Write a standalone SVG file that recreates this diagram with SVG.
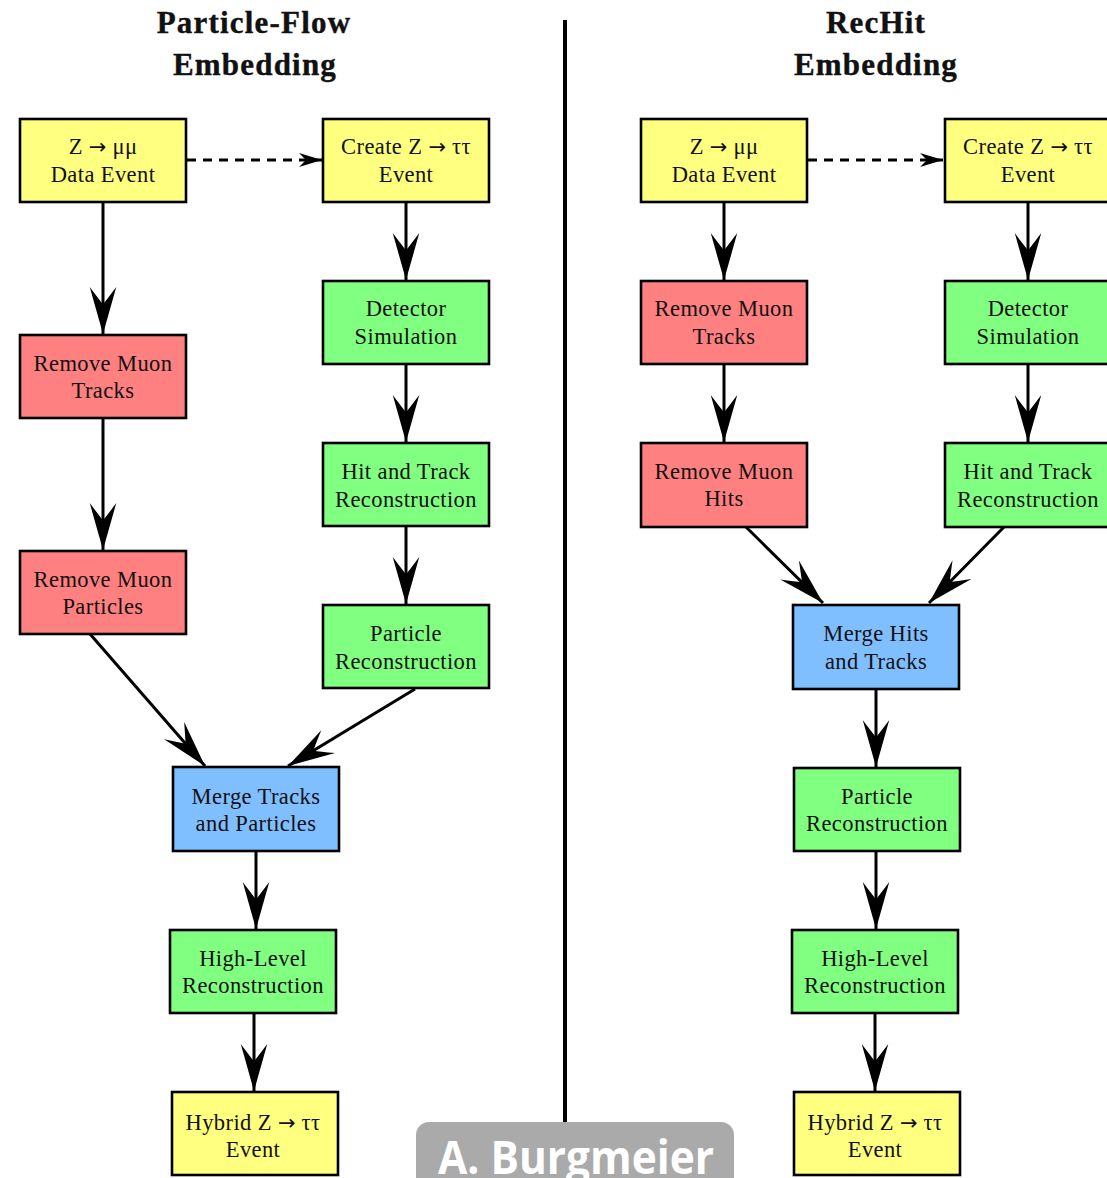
<svg xmlns="http://www.w3.org/2000/svg" width="1107" height="1178" viewBox="0 0 1107 1178">
<style>
.box{stroke:#000;stroke-width:2.6}
.y{fill:#ffff80}.r{fill:#ff8080}.g{fill:#80ff80}.b{fill:#80bfff}
.t{font-family:"Liberation Serif","DejaVu Serif",serif;font-size:22.5px;fill:#111;text-anchor:middle;letter-spacing:0.4px}
.a{font-family:"DejaVu Sans",sans-serif;font-size:21px;letter-spacing:0}
.h{font-family:"Liberation Serif","DejaVu Serif",serif;font-size:31px;font-weight:bold;fill:#111;text-anchor:middle;letter-spacing:1.2px;stroke:#111;stroke-width:0.4px}
.c{stroke:#000;stroke-width:3;fill:none}
.d{stroke:#000;stroke-width:3;fill:none;stroke-dasharray:9 7}
</style>
<defs>
<marker id="ah" markerUnits="userSpaceOnUse" markerWidth="50" markerHeight="30" viewBox="-47 -14 49 28" refX="0" refY="0" orient="auto">
<path d="M0,0 L-46,-13 Q-34,-4 -29,0 Q-34,4 -46,13 Z" fill="#000"/>
</marker>
<marker id="ahs" markerUnits="userSpaceOnUse" markerWidth="26" markerHeight="16" viewBox="-24 -8 25 16" refX="0" refY="0" orient="auto">
<path d="M0,0 L-23,-7 L-16,0 L-23,7 Z" fill="#000"/>
</marker>
</defs>

<text class="h" x="254" y="33">Particle-Flow</text>
<text class="h" x="255" y="75">Embedding</text>
<text class="h" x="876" y="33">RecHit</text>
<text class="h" x="876" y="75">Embedding</text>

<line x1="565" y1="20" x2="565" y2="1124" stroke="#000" stroke-width="4"/>

<g id="connectors">
<line class="d" x1="187" y1="160" x2="322" y2="160" marker-end="url(#ahs)"/>
<line class="c" x1="103" y1="202" x2="103" y2="334" marker-end="url(#ah)"/>
<line class="c" x1="103" y1="418" x2="103" y2="550" marker-end="url(#ah)"/>
<line class="c" x1="406" y1="202" x2="406" y2="280" marker-end="url(#ah)"/>
<line class="c" x1="406" y1="364" x2="406" y2="442" marker-end="url(#ah)"/>
<line class="c" x1="406" y1="526" x2="406" y2="604" marker-end="url(#ah)"/>
<line class="c" x1="90" y1="634" x2="205" y2="766" marker-end="url(#ah)"/>
<line class="c" x1="415" y1="689" x2="288" y2="766" marker-end="url(#ah)"/>
<line class="c" x1="256" y1="851" x2="256" y2="929" marker-end="url(#ah)"/>
<line class="c" x1="254" y1="1013" x2="254" y2="1091" marker-end="url(#ah)"/>

<line class="d" x1="808" y1="160" x2="943" y2="160" marker-end="url(#ahs)"/>
<line class="c" x1="724" y1="202" x2="724" y2="280" marker-end="url(#ah)"/>
<line class="c" x1="724" y1="364" x2="724" y2="442" marker-end="url(#ah)"/>
<line class="c" x1="1028" y1="202" x2="1028" y2="280" marker-end="url(#ah)"/>
<line class="c" x1="1028" y1="364" x2="1028" y2="442" marker-end="url(#ah)"/>
<line class="c" x1="746" y1="527" x2="823" y2="603" marker-end="url(#ah)"/>
<line class="c" x1="1004" y1="527" x2="929" y2="603" marker-end="url(#ah)"/>
<line class="c" x1="876" y1="689" x2="876" y2="767" marker-end="url(#ah)"/>
<line class="c" x1="876" y1="851" x2="876" y2="929" marker-end="url(#ah)"/>
<line class="c" x1="875" y1="1013" x2="875" y2="1091" marker-end="url(#ah)"/>
</g>

<g id="pf-data"><rect class="box y" x="20" y="119" width="166" height="83"/>
<text class="t" x="103" y="154">Z <tspan class="a">→</tspan> μμ</text><text class="t" x="103" y="182">Data Event</text></g>
<g id="pf-create"><rect class="box y" x="323" y="119" width="166" height="83"/>
<text class="t" x="406" y="154">Create Z <tspan class="a">→</tspan> ττ</text><text class="t" x="406" y="182">Event</text></g>
<g id="pf-detsim"><rect class="box g" x="323" y="281" width="166" height="83"/>
<text class="t" x="406" y="316">Detector</text><text class="t" x="406" y="344">Simulation</text></g>
<g id="pf-hittrack"><rect class="box g" x="323" y="443" width="166" height="83"/>
<text class="t" x="406" y="479">Hit and Track</text><text class="t" x="406" y="507">Reconstruction</text></g>
<g id="pf-partreco"><rect class="box g" x="323" y="605" width="166" height="83"/>
<text class="t" x="406" y="641">Particle</text><text class="t" x="406" y="669">Reconstruction</text></g>
<g id="pf-rmtracks"><rect class="box r" x="20" y="335" width="166" height="83"/>
<text class="t" x="103" y="371">Remove Muon</text><text class="t" x="103" y="398">Tracks</text></g>
<g id="pf-rmparticles"><rect class="box r" x="20" y="551" width="166" height="83"/>
<text class="t" x="103" y="587">Remove Muon</text><text class="t" x="103" y="614">Particles</text></g>
<g id="pf-merge"><rect class="box b" x="173" y="767" width="166" height="84"/>
<text class="t" x="256" y="804">Merge Tracks</text><text class="t" x="256" y="831">and Particles</text></g>
<g id="pf-highlevel"><rect class="box g" x="170" y="930" width="166" height="83"/>
<text class="t" x="253" y="966">High-Level</text><text class="t" x="253" y="993">Reconstruction</text></g>
<g id="pf-hybrid"><rect class="box y" x="172" y="1092" width="166" height="83"/>
<text class="t" x="253" y="1130">Hybrid Z <tspan class="a">→</tspan> ττ</text><text class="t" x="253" y="1157">Event</text></g>

<g id="rh-data"><rect class="box y" x="641" y="119" width="166" height="83"/>
<text class="t" x="724" y="154">Z <tspan class="a">→</tspan> μμ</text><text class="t" x="724" y="182">Data Event</text></g>
<g id="rh-create"><rect class="box y" x="945" y="119" width="166" height="83"/>
<text class="t" x="1028" y="154">Create Z <tspan class="a">→</tspan> ττ</text><text class="t" x="1028" y="182">Event</text></g>
<g id="rh-rmtracks"><rect class="box r" x="641" y="281" width="166" height="83"/>
<text class="t" x="724" y="316">Remove Muon</text><text class="t" x="724" y="344">Tracks</text></g>
<g id="rh-detsim"><rect class="box g" x="945" y="281" width="166" height="83"/>
<text class="t" x="1028" y="316">Detector</text><text class="t" x="1028" y="344">Simulation</text></g>
<g id="rh-rmhits"><rect class="box r" x="641" y="443" width="166" height="84"/>
<text class="t" x="724" y="479">Remove Muon</text><text class="t" x="724" y="506">Hits</text></g>
<g id="rh-hittrack"><rect class="box g" x="945" y="443" width="166" height="84"/>
<text class="t" x="1028" y="479">Hit and Track</text><text class="t" x="1028" y="507">Reconstruction</text></g>
<g id="rh-merge"><rect class="box b" x="793" y="605" width="166" height="84"/>
<text class="t" x="876" y="641">Merge Hits</text><text class="t" x="876" y="669">and Tracks</text></g>
<g id="rh-partreco"><rect class="box g" x="794" y="768" width="166" height="83"/>
<text class="t" x="877" y="804">Particle</text><text class="t" x="877" y="831">Reconstruction</text></g>
<g id="rh-highlevel"><rect class="box g" x="792" y="930" width="166" height="83"/>
<text class="t" x="875" y="966">High-Level</text><text class="t" x="875" y="993">Reconstruction</text></g>
<g id="rh-hybrid"><rect class="box y" x="794" y="1092" width="166" height="83"/>
<text class="t" x="875" y="1130">Hybrid Z <tspan class="a">→</tspan> ττ</text><text class="t" x="875" y="1157">Event</text></g>

<g id="watermark">
<rect x="416" y="1122" width="318" height="80" rx="13" fill="#aaaaaa"/>
<text x="576" y="1174" font-family="'Open Sans','Liberation Sans',sans-serif" font-weight="bold" font-size="46" fill="#fff" text-anchor="middle" textLength="276" lengthAdjust="spacingAndGlyphs">A. Burgmeier</text>
</g>
</svg>
